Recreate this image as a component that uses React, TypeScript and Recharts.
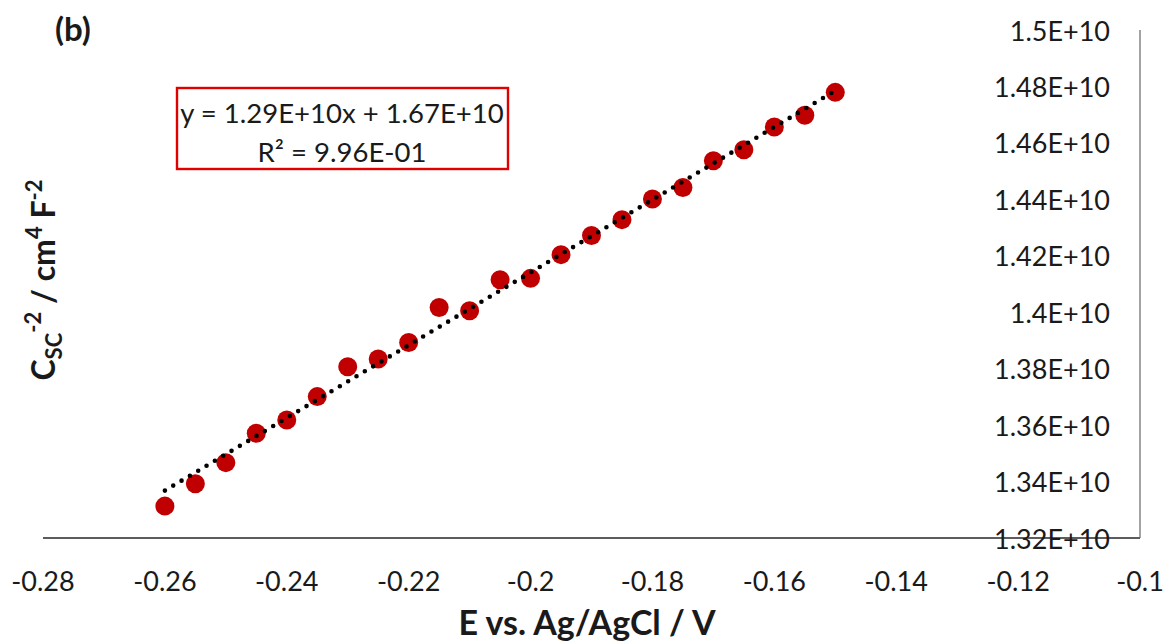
import React from 'react';
import { ScatterChart, Scatter, XAxis, YAxis } from 'recharts';

const xValues = [-0.26, -0.255, -0.25, -0.245, -0.24, -0.235, -0.23, -0.225, -0.22, -0.215, -0.21, -0.205, -0.2, -0.195, -0.19, -0.185, -0.18, -0.175, -0.17, -0.165, -0.16, -0.155, -0.15];
const yValues = [1.3313e10, 1.3392e10, 1.3467e10, 1.3571e10, 1.3618e10, 1.3701e10, 1.3807e10, 1.3834e10, 1.3893e10, 1.4017e10, 1.4005e10, 1.4115e10, 1.4120e10, 1.4204e10, 1.4272e10, 1.4328e10, 1.4401e10, 1.4442e10, 1.4537e10, 1.4576e10, 1.4656e10, 1.4698e10, 1.4779e10];

const trendX = [-0.26, -0.15];
const trendY = [1.3368e10, 1.4785e10];

const xTicks = [-0.28, -0.26, -0.24, -0.22, -0.2, -0.18, -0.16, -0.14, -0.12, -0.1];
const xTickLabels = ['-0.28', '-0.26', '-0.24', '-0.22', '-0.2', '-0.18', '-0.16', '-0.14', '-0.12', '-0.1'];
const yTicks = [1.32e10, 1.34e10, 1.36e10, 1.38e10, 1.4e10, 1.42e10, 1.44e10, 1.46e10, 1.48e10, 1.5e10];
const yTickLabels = ['1.32E+10', '1.34E+10', '1.36E+10', '1.38E+10', '1.4E+10', '1.42E+10', '1.44E+10', '1.46E+10', '1.48E+10', '1.5E+10'];

const points = xValues.map((x, i) => ({ x, y: yValues[i] }));
const trend = trendX.map((x, i) => ({ x, y: trendY[i] }));

const FONT = 'Lato, "Open Sans", sans-serif';
const TEXT = '#1a1a1a';

const nearestIndex = (arr: number[], v: number) => {
  let best = 0;
  arr.forEach((a, i) => {
    if (Math.abs(a - v) < Math.abs(arr[best] - v)) best = i;
  });
  return best;
};

const XTick = (props: any) => {
  const { x, y, payload } = props;
  const i = nearestIndex(xTicks, payload.value);
  return (
    <text x={x} y={y + 42} textAnchor="middle" dominantBaseline="central" fontFamily={FONT} fontSize={27} fill={TEXT}>
      {xTickLabels[i]}
    </text>
  );
};

const YTick = (props: any) => {
  const { x, y, payload } = props;
  const i = nearestIndex(yTicks, payload.value);
  return (
    <text x={x - 30} y={y} textAnchor="end" dominantBaseline="central" fontFamily={FONT} fontSize={27} fill={TEXT}>
      {yTickLabels[i]}
    </text>
  );
};

const Dot = (props: any) => <circle cx={props.cx} cy={props.cy} r={9.5} fill="#C00000" />;

export default function App() {
  return (
    <div style={{ position: 'absolute', left: 0, top: 0, width: 1167, height: 641, background: '#fff' }}>
      <ScatterChart width={1167} height={641} margin={{ top: 30, right: 0, bottom: 63, left: 43 }}>
        <XAxis
          type="number"
          dataKey="x"
          domain={[-0.28, -0.1]}
          ticks={xTicks}
          height={40}
          tickSize={0}
          tickMargin={0}
          tickLine={false}
          axisLine={{ stroke: '#262626', strokeWidth: 1.6 }}
          tick={<XTick />}
          interval={0}
          allowDataOverflow
        />
        <YAxis
          type="number"
          dataKey="y"
          orientation="right"
          domain={[1.32e10, 1.5e10]}
          ticks={yTicks}
          width={27}
          tickSize={0}
          tickMargin={0}
          tickLine={false}
          axisLine={{ stroke: '#666', strokeWidth: 1.2 }}
          tick={<YTick />}
          interval={0}
          allowDataOverflow
        />
        <Scatter data={points} shape={<Dot />} isAnimationActive={false} />
        <Scatter
          data={trend}
          shape={() => null}
          line={{ stroke: '#000', strokeWidth: 4.6, strokeDasharray: '0 9.7', strokeLinecap: 'round' }}
          isAnimationActive={false}
        />
      </ScatterChart>
      <svg width={1167} height={641} style={{ position: 'absolute', left: 0, top: 0, pointerEvents: 'none' }}>
        <text x={55} y={41} fontFamily={FONT} fontWeight="bold" fontSize={33} fill={TEXT}>(b)</text>
        <rect x={177} y={88} width={331} height={81} fill="#fff" stroke="#E00000" strokeWidth={2.4} />
        <text x={342} y={112} textAnchor="middle" dominantBaseline="central" fontFamily={FONT} fontSize={27.5} fill={TEXT}>
          y = 1.29E+10x + 1.67E+10
        </text>
        <text x={342} y={151} textAnchor="middle" dominantBaseline="central" fontFamily={FONT} fontSize={27.5} fill={TEXT}>
          R² = 9.96E-01
        </text>
        <text x={587} y={621} textAnchor="middle" dominantBaseline="central" fontFamily={FONT} fontWeight="bold" fontSize={34} fill={TEXT}>
          E vs. Ag/AgCl / V
        </text>
        <text
          transform="translate(55, 280) rotate(-90)"
          textAnchor="middle"
          fontFamily={FONT}
          fontWeight="bold"
          fontSize={32}
          fill={TEXT}
        >
          <tspan>C</tspan>
          <tspan fontSize={22} dy={7}>SC</tspan>
          <tspan fontSize={22} dy={-21}>-2</tspan>
          <tspan dy={14}> / cm</tspan>
          <tspan fontSize={22} dy={-13}>4</tspan>
          <tspan dy={13}> F</tspan>
          <tspan fontSize={22} dy={-13}>-2</tspan>
        </text>
      </svg>
    </div>
  );
}
